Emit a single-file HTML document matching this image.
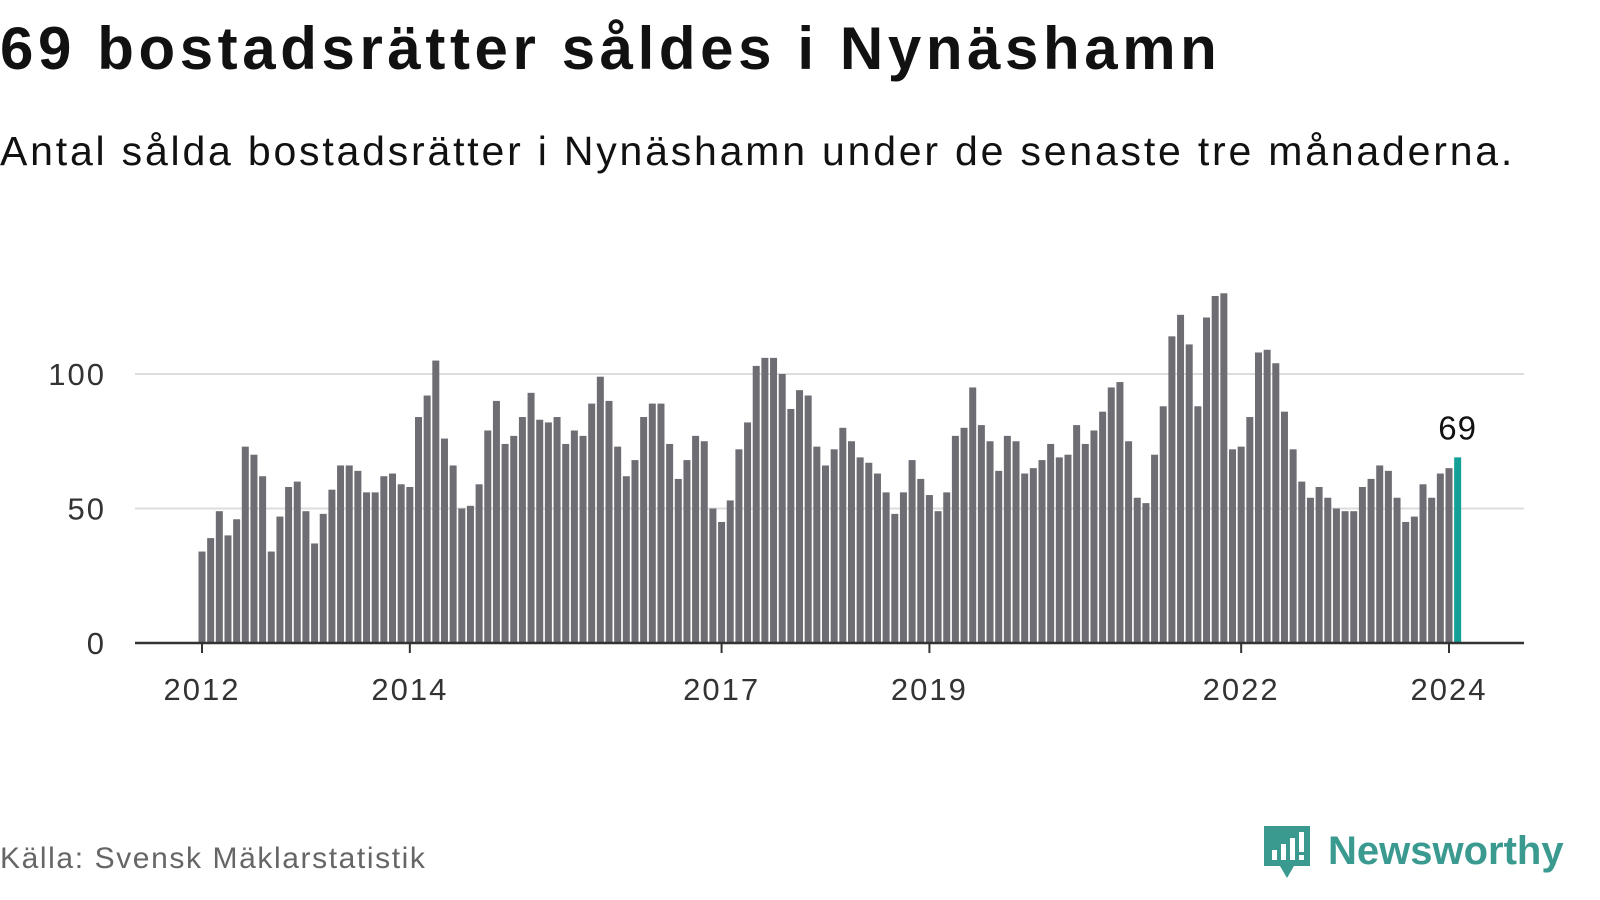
<!DOCTYPE html>
<html><head><meta charset="utf-8"><style>
body{margin:0;width:1600px;height:900px;background:#fff;font-family:"Liberation Sans",sans-serif;overflow:hidden;position:relative}
h1{position:absolute;left:0;top:14px;margin:0;font-size:60px;font-weight:bold;color:#111;letter-spacing:4.6px}
.sub{position:absolute;left:0;top:128px;font-size:41px;color:#111;letter-spacing:2.8px}
.src{position:absolute;left:0;top:842px;font-size:30px;color:#666;letter-spacing:1.6px}
.logo{position:absolute;left:1262px;top:822px;display:flex;align-items:center}
.logo span{font-size:40px;color:#3a9a90;font-weight:bold;margin-left:16px}
</style></head><body>
<h1>69 bostadsrätter såldes i Nynäshamn</h1>
<div class="sub">Antal sålda bostadsrätter i Nynäshamn under de senaste tre månaderna.</div>
<svg id="chart" width="1600" height="900" style="position:absolute;left:0;top:0"></svg>
<div class="src">Källa: Svensk Mäklarstatistik</div>
<div class="logo">
<svg width="50" height="58" viewBox="0 0 50 58"><path d="M2 4h46v40H32l-7 12-7-12H2z" fill="#3a9a90"/><rect x="10" y="28" width="5" height="10" fill="#fff"/><rect x="19" y="22" width="5" height="16" fill="#fff"/><rect x="28" y="16" width="5" height="22" fill="#fff"/><rect x="37" y="10" width="5" height="20" fill="#fff"/><rect x="37" y="33" width="5" height="5" fill="#fff"/></svg>
<span>Newsworthy</span></div>
<script>
const startYear=2012;
const values=[34,39,49,40,46,73,70,62,34,47,58,60,
49,37,48,57,66,66,64,56,56,62,63,59,
58,84,92,105,76,66,50,51,59,79,90,74,
77,84,93,83,82,84,74,79,77,89,99,90,
73,62,68,84,89,89,74,61,68,77,75,50,
45,53,72,82,103,106,106,100,87,94,92,73,
66,72,80,75,69,67,63,56,48,56,68,61,
55,49,56,77,80,95,81,75,64,77,75,63,
65,68,74,69,70,81,74,79,86,95,97,75,
54,52,70,88,114,122,111,88,121,129,130,72,
73,84,108,109,104,86,72,60,54,58,54,50,
49,49,58,61,66,64,54,45,47,59,54,63,
65,69];
const yTicks=[0,50,100];
const xTickYears=[2012,2014,2017,2019,2022,2024];
const svg=document.getElementById('chart');
const NS='http://www.w3.org/2000/svg';
const x0=202,monthW=(1449-202)/144;
const xPos=i=>x0+i*monthW;
const yPos=v=>643-v*2.69;
function mk(t,a){const e=document.createElementNS(NS,t);for(const k in a)e.setAttribute(k,a[k]);svg.appendChild(e);return e;}
yTicks.forEach(t=>{
  if(t>0){const l=mk('line',{x1:135,x2:1524,y1:yPos(t),y2:yPos(t),stroke:'#ddd','stroke-width':2});
  
  }
  const tx=mk('text',{x:106,y:yPos(t)+11,'text-anchor':'end','font-size':31,fill:'#333','letter-spacing':2,'font-family':'Liberation Sans, sans-serif'});
  tx.textContent=t;
  
  
});
values.forEach((v,i)=>{
  const last=i===values.length-1;
  const r=mk('rect',{x:xPos(i)-3.5,y:yPos(v),width:7,height:643-yPos(v),fill:last?'#13a096':'#6e6d73'});
  
  
});
const lv=values[values.length-1];
const lbl=mk('text',{x:xPos(values.length-1),y:yPos(lv)-18,'text-anchor':'middle','font-size':33,fill:'#111','letter-spacing':1,'font-family':'Liberation Sans, sans-serif'});
lbl.textContent=lv;


const ax=mk('line',{x1:135,x2:1524,y1:643,y2:643,stroke:'#333','stroke-width':2.5});


xTickYears.forEach(yr=>{
  const x=xPos((yr-startYear)*12);
  const tk=mk('line',{x1:x,x2:x,y1:643,y2:653,stroke:'#333','stroke-width':2});
  
  
  const t=mk('text',{x:x,y:700,'text-anchor':'middle','font-size':31,fill:'#333','letter-spacing':2,'font-family':'Liberation Sans, sans-serif'});
  t.textContent=yr;
  
  
});
</script>
</body></html>
